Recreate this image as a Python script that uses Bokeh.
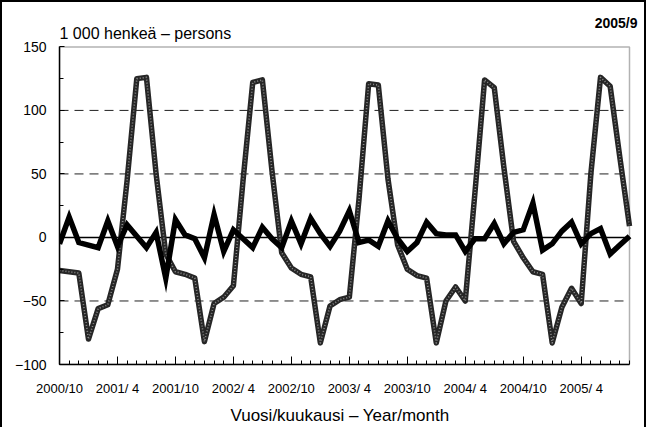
from bokeh.plotting import figure
from bokeh.models import (Range1d, FixedTicker, BoxAnnotation, Label, Title,
                          InlineStyleSheet, ColumnDataSource)
from bokeh.embed import file_html
from bokeh.resources import INLINE

# ---- categories: monthly, 2000/10 .. 2005/9 ----
months = []
_y, _m = 2000, 10
for _ in range(60):
    months.append(f"{_y}/{_m}")
    _m += 1
    if _m > 12:
        _m, _y = 1, _y + 1

# ---- series (1 000 persons) ----
# grey, seasonal series
seasonal = [
    -26, -27, -28, -80, -56, -53, -25, 45, 125, 126, 50, -13,
    -27, -29, -32, -82, -52, -47, -38, 45, 122, 124, 52, -12,
    -24, -29, -31, -83, -54, -49, -47, 30, 121, 120, 46, -6,
    -25, -30, -32, -83, -50, -39, -50, 35, 124, 118, 55, -3,
    -16, -27, -29, -83, -55, -40, -52, 50, 126, 119, 63, 9,
]
# black series
irregular = [
    -5, 16, -4, -6, -8, 13, -7, 10, 1, -8, 4, -32,
    14, 2, -1, -16, 18, -11, 6, -1, -8, 8, -1, -8,
    13, -5, 15, 3, -7, 5, 21, -4, -2, -7, 13, -1,
    -11, -4, 12, 3, 2, 2, -11, -1, -1, 11, -5, 4,
    6, 27, -10, -5, 5, 12, -5, 3, 7, -13, -6, 1,
]

tick_months = ["2000/10", "2001/4", "2001/10", "2002/4", "2002/10",
               "2003/4", "2003/10", "2004/4", "2004/10", "2005/4"]
tick_labels = ["2000/10", "2001/ 4", "2001/10", "2002/ 4", "2002/10",
               "2003/ 4", "2003/10", "2004/ 4", "2004/10", "2005/ 4"]
y_ticks = [-100, -50, 0, 50, 100, 150]
y_minor = [-75, -25, 25, 75, 125]
grid_levels = [-50, 50, 100]
zero_level = [0]
Y_MIN, Y_MAX = -100, 150

unit_text = "1 000 henkeä – persons"
stamp_text = "2005/9"
x_title = "Vuosi/kuukausi – Year/month"

FONT = "Liberation Sans"

# ---- layout geometry (canvas pixels) ----
W, H = 646, 427
LEFT, BOTTOM = 57, 60          # borders reserved for axes
BOX_RIGHT_PX, BOX_TOP_PX = 627, 45   # where the chart box ends / starts

xs = list(range(len(months)))
X_MAX = xs[-1]
ppx = (BOX_RIGHT_PX - LEFT) / (X_MAX - 0)
ppy = ((H - BOTTOM) - BOX_TOP_PX) / (Y_MAX - Y_MIN)
x_end = X_MAX + (W - BOX_RIGHT_PX) / ppx
y_end = Y_MAX + BOX_TOP_PX / ppy

src = ColumnDataSource(dict(x=xs, seasonal=seasonal, irregular=irregular))

p = figure(width=W, height=H, title=None,
           x_range=Range1d(0, x_end), y_range=Range1d(Y_MIN, y_end),
           output_backend="svg", toolbar_location=None,
           min_border_left=LEFT, min_border_right=0,
           min_border_top=0, min_border_bottom=BOTTOM)
p.stylesheets = [InlineStyleSheet(css=":host { border-top: 2px solid black; "
                                      "border-left: 2px solid black; "
                                      "border-right: 2px solid black; }")]
p.background_fill_color = "white"
p.border_fill_color = "white"
p.outline_line_color = None
p.xgrid.visible = False
p.ygrid.visible = False

# dashed horizontal grid lines, limited to the chart box
p.multi_line(xs=[[0, X_MAX] for _ in grid_levels], ys=[[g, g] for g in grid_levels],
             line_color="#222222", line_width=1, line_dash="9 6")
# solid zero line
p.multi_line(xs=[[0, X_MAX] for _ in zero_level], ys=[[z, z] for z in zero_level],
             line_color="black", line_width=1.5)

# y axis
p.yaxis.bounds = (Y_MIN, Y_MAX)
p.yaxis.ticker = FixedTicker(ticks=y_ticks, minor_ticks=y_minor)
p.yaxis.major_tick_in = 5
p.yaxis.major_tick_out = 0
p.yaxis.minor_tick_in = 4
p.yaxis.minor_tick_out = 0
p.yaxis.axis_line_width = 1.5
p.yaxis.major_label_standoff = 13
p.yaxis.major_label_text_font = FONT
p.yaxis.major_label_text_font_size = "14px"
p.yaxis.major_label_text_color = "black"

# x axis
tick_pos = [months.index(t) for t in tick_months]
p.xaxis.bounds = (0, X_MAX)
p.xaxis.ticker = FixedTicker(ticks=tick_pos, minor_ticks=xs)
p.xaxis.major_label_overrides = {pos: lab for pos, lab in zip(tick_pos, tick_labels)}
p.xaxis.major_tick_in = 8
p.xaxis.major_tick_out = 0
p.xaxis.minor_tick_in = 4
p.xaxis.minor_tick_out = 0
p.xaxis.axis_line_width = 1.5
p.xaxis.major_label_standoff = 16
p.xaxis.major_label_text_font = FONT
p.xaxis.major_label_text_font_size = "13px"
p.xaxis.major_label_text_color = "black"

# x-axis title under the chart box
p.add_layout(Title(text=x_title, align="left", offset=171,
                   standoff=10, text_font=FONT, text_font_size="17px",
                   text_font_style="normal", text_color="black"), "below")

# grey (stippled) seasonal line
p.line("x", "seasonal", source=src, line_color="#262626", line_width=5.5, line_join="round")
p.line("x", "seasonal", source=src, line_color="#8c8c8c", line_width=1.6, line_dash="1 2",
       line_join="round")
# black line
p.line("x", "irregular", source=src, line_color="black", line_width=5.5, line_join="miter")

# chart box
p.add_layout(BoxAnnotation(left=0, right=X_MAX, bottom=Y_MIN, top=Y_MAX,
                           fill_color=None, fill_alpha=0,
                           line_color="black", line_width=1.5))

# texts above the chart box
p.add_layout(Label(x=0, y=Y_MAX + 14 / ppy, text=unit_text,
                   text_font=FONT, text_font_size="16px", text_color="black",
                   text_align="left", text_baseline="middle"))
p.add_layout(Label(x=X_MAX + 8 / ppx, y=Y_MAX + 24 / ppy, text=stamp_text,
                   text_font=FONT, text_font_size="14px", text_font_style="bold",
                   text_color="black", text_align="right", text_baseline="middle"))

open("out.html", "w").write(file_html(p, INLINE))
